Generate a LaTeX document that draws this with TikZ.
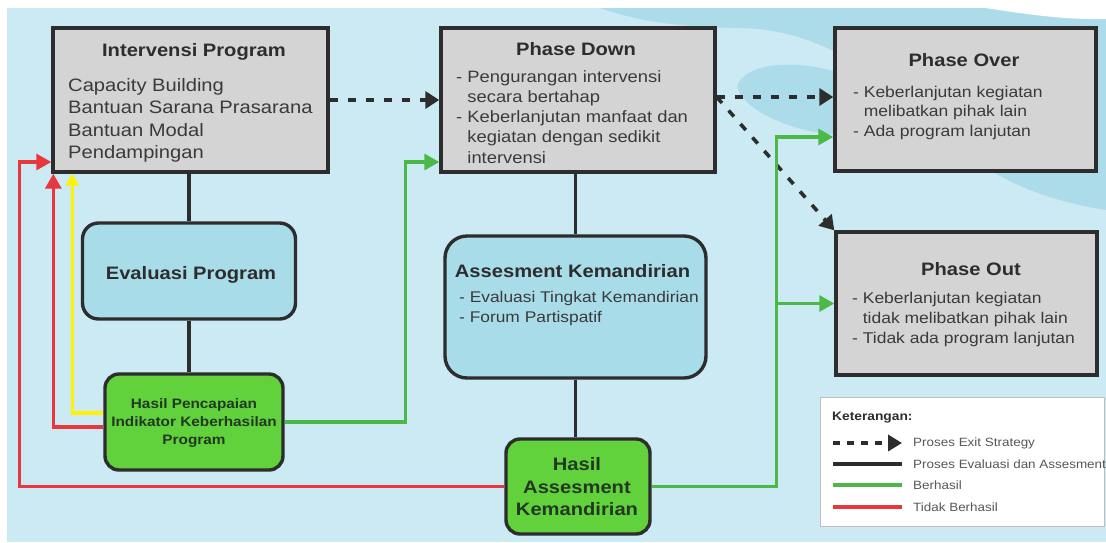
\documentclass[tikz,border=0pt]{standalone}
\usepackage{fontspec}
\setmainfont{Liberation Sans}[FakeStretch=1.12]
\usetikzlibrary{arrows.meta,calc}

\definecolor{bgColor}{RGB}{204,234,244}
\definecolor{waveColor}{RGB}{172,220,234}
\definecolor{blockColor}{RGB}{212,212,212}
\definecolor{evalColor}{RGB}{168,220,233}
\definecolor{hasilColor}{RGB}{98,210,60}
\definecolor{okColor}{RGB}{76,184,72}
\definecolor{failColor}{RGB}{232,56,62}
\definecolor{warnColor}{RGB}{255,242,0}
\definecolor{lineColor}{RGB}{45,45,45}
\definecolor{txtColor}{RGB}{58,58,58}
\definecolor{hasilTxt}{RGB}{34,56,34}

\tikzset{
  phaseBox/.style={draw=lineColor, line width=3.4pt, fill=blockColor, inner sep=0pt},
  evalBox/.style={phaseBox, fill=evalColor, rounded corners=16pt},
  hasilBox/.style={phaseBox, fill=hasilColor, rounded corners=14pt},
  boxTitle/.style={inner sep=0pt, text=lineColor, font=\bfseries\fontsize{18}{22}\selectfont},
  boxText/.style={inner sep=0pt, text=txtColor, align=left},
  hasilText/.style={inner sep=0pt, text=hasilTxt, align=center},
  exitLine/.style={draw=lineColor, line width=3.6pt, dash pattern=on 8pt off 10pt,
    -{Triangle[length=14pt,width=17pt]}},
  evalLine/.style={draw=lineColor, line width=3.2pt},
  okLine/.style={draw=okColor, line width=3.2pt, -{Triangle[length=15pt,width=16pt]}},
  failLine/.style={draw=failColor, line width=3.2pt, -{Triangle[length=15pt,width=16pt]}},
  warnLine/.style={draw=warnColor, line width=3.2pt, -{Triangle[length=12pt,width=13pt]}},
  legText/.style={inner sep=0pt, text=txtColor!85, font=\fontsize{12}{14}\selectfont}
}

\begin{document}
\begin{tikzpicture}[x=1pt,y=-1pt]
  \useasboundingbox (0,0) rectangle (1106,542);
  % background
  \fill[white] (0,0) rectangle (1106,542);
  \fill[bgColor] (7,8) rectangle (1106,542);
  \fill[waveColor] (600,8) .. controls (640,22) and (680,27) .. (740,28)
    .. controls (860,30) and (930,130) .. (990,170)
    .. controls (1030,195) and (1075,205) .. (1106,210) -- (1106,8) -- cycle;
  \fill[waveColor] (737,86) .. controls (745,62) and (800,58) .. (845,75)
    -- (845,135) .. controls (800,135) and (742,112) .. (737,86) -- cycle;
  \fill[white] (985,8) .. controls (1020,13) and (1060,20) .. (1106,19) -- (1106,8) -- cycle;

  % Intervensi
  \node[phaseBox, minimum width=275pt, minimum height=144pt] (ip) at (190.5,100) {};
  \node[boxTitle, anchor=base] (ipTitle) at (194,56) {Intervensi Program};
  \node[boxText, anchor=north west, font=\fontsize{18}{22.5}\selectfont] (ipList) at (68,78)
    {Capacity Building\\Bantuan Sarana Prasarana\\Bantuan Modal\\Pendampingan};

  % Phase Down
  \node[phaseBox, minimum width=274pt, minimum height=144pt] (pd) at (578,100) {};
  \node[boxTitle, anchor=base] (pdTitle) at (576,55) {Phase Down};
  \node[boxText, anchor=north west, font=\fontsize{16.4}{20.3}\selectfont] (pdList) at (456,70)
    {- Pengurangan intervensi\\\phantom{- }secara bertahap\\- Keberlanjutan manfaat dan\\
     \phantom{- }kegiatan dengan sedikit\\\phantom{- }intervensi};

  % Phase Over
  \node[phaseBox, minimum width=261pt, minimum height=143pt] (po) at (965.5,99.5) {};
  \node[boxTitle, anchor=base] (poTitle) at (964,66) {Phase Over};
  \node[boxText, anchor=north west, font=\fontsize{15.6}{19.5}\selectfont] (poList) at (853,85.5)
    {- Keberlanjutan kegiatan\\\phantom{- }melibatkan pihak lain\\- Ada program lanjutan};

  % Phase Out
  \node[phaseBox, minimum width=261pt, minimum height=143pt] (pout) at (966.5,303.5) {};
  \node[boxTitle, anchor=base] (poutTitle) at (971,275) {Phase Out};
  \node[boxText, anchor=north west, font=\fontsize{15.6}{20}\selectfont] (poutList) at (852,291.6)
    {- Keberlanjutan kegiatan\\\phantom{- }tidak melibatkan pihak lain\\- Tidak ada program lanjutan};

  % Evaluasi dan Assesment
  \node[evalBox, minimum width=213pt, minimum height=96pt] (ev) at (189,271) {};
  \node[boxTitle, anchor=base] (evTitle) at (191,279) {Evaluasi Program};
  \node[hasilBox, minimum width=178pt, minimum height=96pt] (hp) at (194,422) {};
  \node[hasilText, font=\bfseries\fontsize{13.7}{17.7}\selectfont] (hpText) at (194,423)
    {Hasil Pencapaian\\Indikator Keberhasilan\\Program};

  \node[evalBox, rounded corners=22pt, minimum width=261pt, minimum height=142pt] (ak) at (575.5,307) {};
  \node[boxTitle, anchor=base] (akTitle) at (572.5,277) {Assesment Kemandirian};
  \node[boxText, anchor=north west, font=\fontsize{15.5}{20}\selectfont] (akList) at (459,290.7)
    {- Evaluasi Tingkat Kemandirian\\- Forum Partispatif};
  \node[hasilBox, minimum width=144pt, minimum height=95pt] (ha) at (578,486.5) {};
  \node[hasilText, font=\bfseries\fontsize{18}{22.5}\selectfont] (haText) at (577,487)
    {Hasil\\Assesment\\Kemandirian};

  % Exit strategy
  \draw[exitLine] (ip.east) -- (pd.west);
  \coordinate (pdOut) at ([yshift=3pt]pd.east);
  \draw[exitLine] (pdOut) -- (pdOut -| po.west);
  \draw[exitLine] (pdOut) -- (pout.north west);

  % Evaluasi
  \draw[evalLine] (ev.north |- ip.south) -- (ev.north);
  \draw[evalLine] (ev.south) -- (ev.south |- hp.north);
  \draw[evalLine] (ak.north |- pd.south) -- (ak.north);
  \draw[evalLine] (ak.south) -- (ak.south |- ha.north);

  % Berhasil
  \coordinate (pdIn) at ([yshift=-62pt]pd.west);
  \draw[okLine] (hp.east) -| ($(pdIn)+(-34,0)$) -- (pdIn);
  \coordinate (poIn) at ([yshift=-37.5pt]po.west);
  \coordinate (gx) at ($(poIn)+(-57,0)$);
  \draw[okLine] (ha.east) -| (gx) -- (poIn);
  \draw[okLine] (gx |- pout.west) -- (pout.west);

  % Tidak berhasil
  \coordinate (ipIn) at ([yshift=-62pt]ip.west);
  \draw[failLine] (ha.west) -| ($(ipIn)+(-32,0)$) -- (ipIn);
  \draw[failLine] ([yshift=-5pt]hp.west) -| ($(ip.south west)+(2,0)$);
  \draw[warnLine] ([yshift=9pt]hp.west) -| ($(ip.south west)+(21,0)$);

  % Keterangan
  \node[draw=black!25, fill=white, line width=0.8pt, minimum width=284pt, minimum height=129pt] (leg) at (962,461.5) {};
  \node[inner sep=0pt, anchor=base west, text=lineColor, font=\bfseries\fontsize{12.3}{14}\selectfont] (legTitle) at (832,420) {Keterangan:};
  \node[legText, anchor=west] (leg1) at (913,443) {Proses Exit Strategy};
  \node[legText, anchor=west] (leg2) at (913,464) {Proses Evaluasi dan Assesment};
  \node[legText, anchor=west] (leg3) at (913,485) {Berhasil};
  \node[legText, anchor=west] (leg4) at (913,507) {Tidak Berhasil};
  \draw[exitLine, dash pattern=on 7pt off 7pt, -{Triangle[length=14pt,width=16pt]}]
    ($(leg1.west)+(-80,0)$) -- ($(leg1.west)+(-11,0)$);
  \draw[evalLine] ($(leg2.west)+(-80,0)$) -- ($(leg2.west)+(-11,0)$);
  \draw[evalLine, okColor] ($(leg3.west)+(-80,0)$) -- ($(leg3.west)+(-11,0)$);
  \draw[evalLine, failColor] ($(leg4.west)+(-80,0)$) -- ($(leg4.west)+(-11,0)$);
\end{tikzpicture}
\end{document}
